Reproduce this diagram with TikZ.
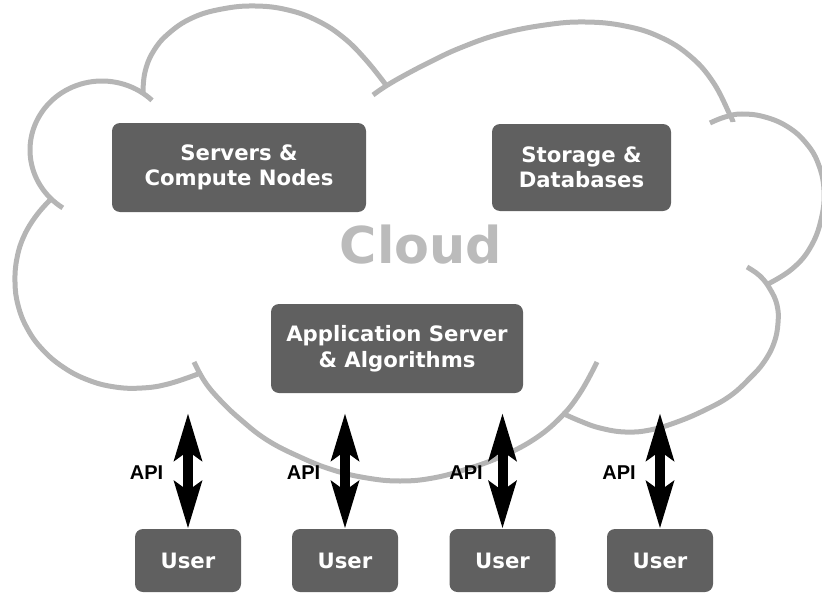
\documentclass[tikz,border=0pt]{standalone}
\usepackage{fontspec}
\setmainfont{DejaVu Sans}
\newfontfamily\apifont{Liberation Sans}
\usetikzlibrary{arrows.meta}
\definecolor{cloudgray}{HTML}{B5B5B5}
\definecolor{boxgray}{HTML}{606060}
\definecolor{cloudtext}{HTML}{BBBBBB}
\begin{document}
\begin{tikzpicture}[x=1pt,y=-1pt,
  cloudline/.style={draw=cloudgray, line width=5pt, line cap=butt},
  box/.style={fill=boxgray, rounded corners=8pt, text=white,
    font=\fontsize{21.2}{25.5}\selectfont\bfseries, align=center, inner sep=0pt},
  userbox/.style={box, minimum width=106pt, minimum height=63pt},
  apiarrow/.style={line width=10pt,
    {Stealth[length=47pt,width=27pt,inset=9pt]}-{Stealth[length=47pt,width=27pt,inset=9pt]}},
  apilabel/.style={font=\apifont\fontsize{20}{20}\selectfont\bfseries, text=black, inner sep=0pt, anchor=base}]
\useasboundingbox (0,0) rectangle (822,594);
\clip (0,0) rectangle (822,594);
% cloud lobes
\draw[cloudline] plot[domain=123:314, samples=60, variable=\t] ({102+72*cos(\t)},{150+69*sin(\t)});
\draw[cloudline] plot[smooth, tension=0.7] coordinates {(143,92) (145,72) (153,52) (168,34) (192,18) (222,9) (255,6) (288,10) (318,21) (344,38) (366,60) (386,85)};
\draw[cloudline] plot[smooth, tension=0.7] coordinates {(373,95) (386,86) (405,75) (430,62) (460,48) (500,34) (545,25) (585,22) (625,26) (660,37) (690,56) (713,82) (730,115) (733,122)};
\draw[cloudline] plot[smooth, tension=0.7] coordinates {(710,123) (725,117) (742,114) (765,117) (788,127) (806,143) (818,163) (824,190) (821,220) (810,248) (792,269) (768,284)};
\draw[cloudline] plot[smooth, tension=0.7] coordinates {(747,267) (760,276) (770,289) (777,305) (778,323) (774,343) (764,362) (750,378) (730,396) (705,410) (677,422) (650,430) (625,432) (600,428) (580,421) (562,413)};
\draw[cloudline] plot[smooth, tension=0.7] coordinates {(194,362) (205,382) (220,400) (240,419) (267,440) (300,457) (333,470) (367,478) (400,481) (433,478) (467,469) (500,457) (533,440) (560,418) (580,393) (597,362)};
\draw[cloudline] plot[smooth, tension=0.7] coordinates {(50,200) (36,216) (24,236) (17,258) (15,282) (18,305) (27,328) (42,349) (63,367) (88,380) (115,387) (142,388) (168,384) (198,374)};
\node[font=\fontsize{50.8}{51}\selectfont\bfseries, text=cloudtext, anchor=base, inner sep=0pt] (cloudlabel) at (421,263) {Cloud};
% boxes
\node[box, minimum width=254pt, minimum height=89pt] (servers) at (239,167.5) {Servers \&\\Compute Nodes};
\node[box, minimum width=179pt, minimum height=87pt] (storage) at (581.5,167.5) {Storage \&\\Databases};
\node[box, minimum width=252pt, minimum height=89pt] (app) at (397,348.5) {Application Server\\\& Algorithms};
\node[userbox] (u1) at (188,560.5) {User};
\node[userbox] (u2) at (345,560.5) {User};
\node[userbox] (u3) at (502.5,560.5) {User};
\node[userbox] (u4) at (660,560.5) {User};
% arrows
\coordinate (t1) at (188,413);
\coordinate (t2) at (345,413);
\coordinate (t3) at (502.5,413);
\coordinate (t4) at (660,413);
\draw[apiarrow] (t1) -- (u1.north);
\draw[apiarrow] (t2) -- (u2.north);
\draw[apiarrow] (t3) -- (u3.north);
\draw[apiarrow] (t4) -- (u4.north);
\node[apilabel] (l1) at (146.5,479) {API};
\node[apilabel] (l2) at (303.5,479) {API};
\node[apilabel] (l3) at (466,479) {API};
\node[apilabel] (l4) at (619,479) {API};
\end{tikzpicture}
\end{document}
